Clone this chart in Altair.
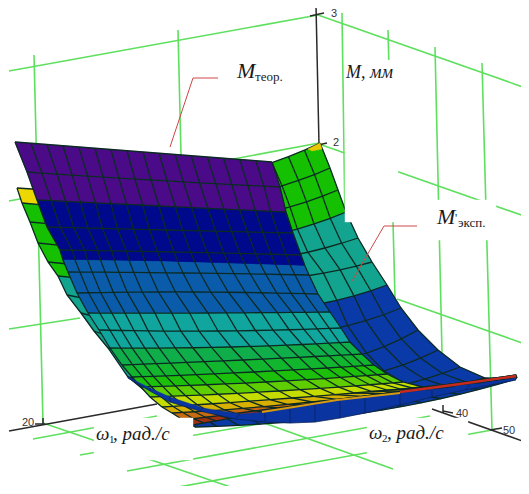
import math
import altair as alt

# ---- surface M theor: one row per w1 step, left / middle / right point
THEOR_LEFT = [(15,142),(27,172),(37,200),(47,227),(60,250),(63,260),(68,272),(77,293),(88,313),(99,330),(110,348),
              (122,365),(132,377),(141,387),(150,397),(162,407),(172,413),(183,420),(193,425)]
THEOR_MID = [(143,152),(151,180),(159,206),(166,230),(174,252),(178,262),(183,273),(193,292),(208,313),(218,331),(231,347),
             (243,360),(254,372),(266,382),(279,391),(292,398),(312,402),(330,401),(340,401)]
THEOR_RIGHT = [(272,162),(280,187),(286,212),(293,233),(301,255),(305,266),(309,275),(318,294),(330,312),(341,328),(350,342),
               (362,354),(374,365),(387,374),(403,382),(423,387),(470,382),(516,375),(517,378)]
THEOR_COLORS = ["#4b0a88","#4b0a88","#00088c","#00088c","#00088c","#0a5cab","#0a5cab","#0a5cab","#10a69e","#10a69e",
                "#0fae4a","#12b52e","#1cc00a","#5fce00","#c4dc00","#d8b000","#c86a10","#a03010"]
THEOR_HIDDEN_LINES = [5]
THEOR_SQUEEZE = [0,.02,.05,.08,.1,.12,.14,.18,.22,.26,.3,.32,.34,.35,.35,.35,.35,.35,.35]
THEOR_ORANGE_EDGE = [(262,412),(300,406),(337,400),(400,393)]
THEOR_RED_EDGE = [(400,392),(460,384),(516,376)]

# ---- surface M exp.
EXP_LEFT = [(17,188),(22,203),(30,222),(38,243),(48,262),(58,276),(67,295),(81,313),(94,331),(108,348),(128,377),(160,403),(195,427)]
EXP_MID = [(183,184),(192,204),(200,224),(207,246),(216,266),(232,283),(243,312),(252,338),(271,368),(286,384),(308,397),(333,404),(363,413)]
EXP_RIGHT = [(320,143),(330,168),(338,190),(346,212),(358,238),(372,262),(387,285),(401,308),(418,330),(438,350),(460,367),(485,378),(516,379)]
EXP_COLORS = ["#14c000","#14c000","#14c000","#12a48e","#12a48e","#12a48e","#0a3aa8","#0a3aa8","#0a3aa8","#0a3aa8","#0a3aa8","#0a3aa8"]
EXP_EDGE_COLORS = ["#ecd800","#14c000","#14c000","#14c000","#14c000","#12a48e","#12a48e","#12a48e","#12a48e","#12a48e","#0a3aa8","#0a3aa8"]
EXP_TIP = [(308,149),(320,143),(322,149),(312,151)]
COLUMNS = 16

# the part of M exp. that passes in front of M theor.
SLIVER_TOP = [(128,377),(150,388),(170,397),(203,408),(240,414),(265,412),(290,408),(315,403),(340,400),(365,397),(400,393),(432,390),(470,385),(516,378)]
SLIVER_BOTTOM = [(128,378),(150,391),(170,402),(200,411),(235,419),(265,422),(290,423),(315,422),(340,418),(365,413),(400,405),(432,397),(465,390),(516,380)]

# ---- frame
GRID_LINES = [
    [(9,71),(318,15)], [(9,201),(319,143)], [(9,329),(80,318)],
    [(34,55),(43,423)], [(178,30),(181,155)],
    [(318,15),(523,87)], [(319,144),(527,217)], [(397,299),(528,345)],
    [(342,13),(345,222)], [(388,30),(395,298)], [(435,47),(442,353)], [(482,63),(492,430)],
    [(33,439),(157,416)], [(80,455),(265,423)], [(127,471),(430,416)], [(173,488),(492,430)],
    [(43,423),(248,493)], [(200,400),(393,469)],
]
AXIS_LINES = [
    [(316,5),(319,145)], [(310,16),(324,13)], [(318,145),(327,143)],
    [(9,431),(157,404)], [(432,409),(528,443)],
    [(35,424),(45,424)], [(43,418),(43,425)],
    [(443,405),(443,413)], [(443,411),(453,413)], [(490,430),(502,428)],
]
LEADERS = [[(170,147),(193,78),(218,78)], [(352,281),(384,226),(417,226)]]
MASKS = [[(345,60),(398,60),(398,222),(345,222)], [(432,200),(496,200),(496,240),(432,240)],
         [(94,418),(193,418),(193,460),(94,460)], [(367,418),(468,418),(468,457),(367,457)]]

TICKS = [("3",331,17),("2",333,146),("20",22,426),("40",456,417),("50",503,434)]
LABELS = [
    ("M",237,78,22,"italic"),("теор.",255,81,13,"normal"),
    ("M, мм",346,78,18,"italic"),
    ("M",437,224,22,"italic"),("'",455,222,12,"normal"),("эксп.",458,227,13,"normal"),
    ("ω",96,440,19,"italic"),("1",109,443,11,"normal"),(", рад./с",113,440,19,"italic"),
    ("ω",369,439,19,"italic"),("2",382,442,11,"normal"),(", рад./с",387,439,19,"italic"),
]


def at(row, t, squeeze=0.0):
    a, b, c = row
    t = t - squeeze * math.sin(2 * math.pi * t) / (2 * math.pi)
    return [a[k]*(1-t)*(1-2*t) + 4*b[k]*t*(1-t) + c[k]*t*(2*t-1) for k in (0, 1)]


def polygon(points, color):
    ring = [list(p) for p in points]
    ring.append(ring[0])
    return {"type": "Feature", "properties": {"color": color},
            "geometry": {"type": "Polygon", "coordinates": [ring]}}


def line(points):
    return {"type": "Feature", "properties": {},
            "geometry": {"type": "LineString", "coordinates": [list(p) for p in points]}}


def shapes(features):
    return alt.InlineData(values={"type": "FeatureCollection", "features": features},
                          format=alt.DataFormat(property="features", type="json"))


PROJ = alt.Projection(type="identity", scale=1, translate=[-8, -8])


def filled(features):
    return alt.Chart(shapes(features)).mark_geoshape(strokeWidth=0.4).encode(
        fill=alt.Fill("properties.color:N", scale=None, legend=None),
        stroke=alt.Stroke("properties.color:N", scale=None, legend=None),
    ).project(**PROJ.to_dict())


def stroked(features, color, width, opacity=1.0):
    return alt.Chart(shapes(features)).mark_geoshape(
        filled=False, stroke=color, strokeWidth=width, strokeOpacity=opacity
    ).project(**PROJ.to_dict())


def mesh(left, mid, right, colors, hidden=(), edge_colors=None, squeeze=None):
    rows = list(zip(left, mid, right))
    sq = squeeze or [0.0] * len(rows)
    cells, lines = [], []
    for r in range(len(rows) - 1):
        for c in range(COLUMNS):
            t0, t1 = c / COLUMNS, (c + 1) / COLUMNS
            col = edge_colors[r] if (edge_colors and c < 3) else colors[r]
            cells.append(polygon([at(rows[r], t0, sq[r]), at(rows[r], t1, sq[r]),
                                  at(rows[r+1], t1, sq[r+1]), at(rows[r+1], t0, sq[r+1])], col))
    for r, row in enumerate(rows):
        if r not in hidden:
            lines.append(line([at(row, c / COLUMNS, sq[r]) for c in range(COLUMNS + 1)]))
    for c in range(COLUMNS + 1):
        lines.append(line([at(row, c / COLUMNS, sq[r]) for r, row in enumerate(rows)]))
    return filled(cells), stroked(lines, "#0c2a24", 1.3)


exp_fill, exp_lines = mesh(EXP_LEFT, EXP_MID, EXP_RIGHT, EXP_COLORS, edge_colors=EXP_EDGE_COLORS)
theor_fill, theor_lines = mesh(THEOR_LEFT, THEOR_MID, THEOR_RIGHT, THEOR_COLORS, hidden=THEOR_HIDDEN_LINES, squeeze=THEOR_SQUEEZE)

sliver_cells = []
sliver_cross = []
for i in range(len(SLIVER_TOP) - 1):
    sliver_cells.append(polygon([SLIVER_TOP[i], SLIVER_TOP[i+1], SLIVER_BOTTOM[i+1], SLIVER_BOTTOM[i]], "#0a35a0"))
    sliver_cross.append(line([SLIVER_TOP[i], SLIVER_BOTTOM[i]]))

layers = [
    stroked([line(l) for l in GRID_LINES], "#5ee05e", 1.6),
    stroked([line(l) for l in AXIS_LINES], "#2a2a2a", 1.5),
    exp_fill, exp_lines,
    filled([polygon(EXP_TIP, "#e8c800")]),
    theor_fill, theor_lines,
    filled(sliver_cells),
    stroked(sliver_cross + [line(SLIVER_BOTTOM)], "#0c1c40", 0.6),
    stroked([line(THEOR_ORANGE_EDGE)], "#d89a10", 2.0),
    stroked([line(THEOR_RED_EDGE)], "#c82a1e", 2.4),
    filled([polygon(m, "#ffffff") for m in MASKS]),
    stroked([line(l) for l in LEADERS], "#d04848", 1.0),
]

for text, x, y in TICKS:
    layers.append(alt.Chart({"values": [{"t": text}]}).mark_text(
        text=text, font="Liberation Sans", fontSize=11, color="#333333", align="left", baseline="alphabetic"
    ).encode(x=alt.value(x - 8), y=alt.value(y - 8)))
for text, x, y, size, style in LABELS:
    layers.append(alt.Chart({"values": [{"t": text}]}).mark_text(
        text=text, font="Liberation Serif", fontSize=size, fontStyle=style, color="#1a1a1a",
        align="left", baseline="alphabetic"
    ).encode(x=alt.value(x - 8), y=alt.value(y - 8)))

chart = alt.layer(*layers).properties(
    width=513, height=478, padding=0, autosize=alt.AutoSizeParams(type="none"),
    background="#ffffff"
).configure_view(stroke=None)

chart.save("out.html", embed_options={"renderer": "svg", "actions": False})
